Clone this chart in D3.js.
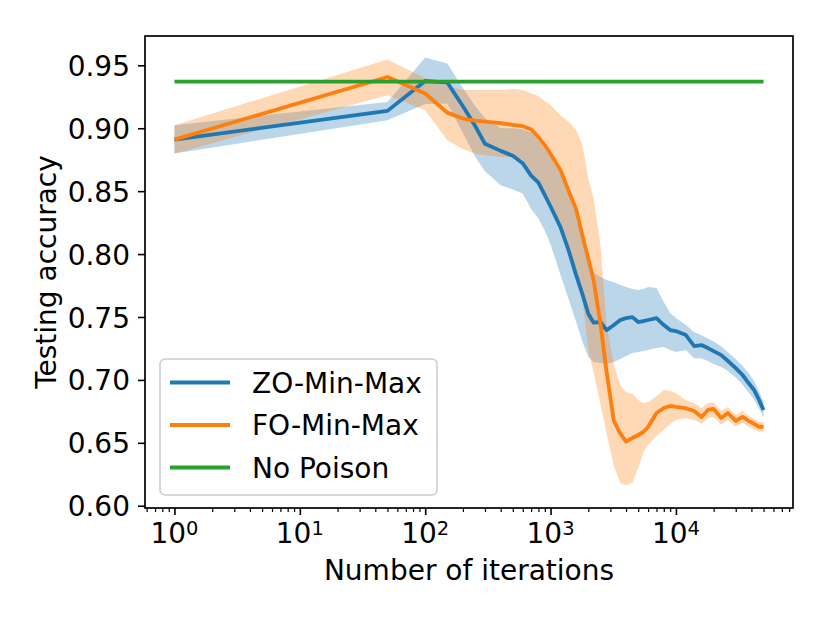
<!DOCTYPE html>
<html>
<head>
<meta charset="utf-8">
<script src="https://d3js.org/d3.v7.min.js"></script>
<style>
  body { margin: 0; background: #fff; }
  text { font-family: "DejaVu Sans", sans-serif; fill: #000; }
</style>
</head>
<body>
<div id="chart"></div>
<script>
// iterations logged during training
var iterations = [1, 50, 100, 150, 200, 250, 300, 400, 500, 600, 700, 800, 900, 1000, 1200, 1400, 1600, 1800, 2000, 2200, 2500, 2800, 3200, 3600, 4000, 4500, 5000, 5500, 6000, 7000, 8000, 9000, 10000, 12000, 14000, 16000, 18000, 20000, 23000, 26000, 30000, 34000, 38000, 42000, 46000, 50000];

// ZO-Min-Max: mean and band
var zoMean = [0.891, 0.9138, 0.9376, 0.9363, 0.9175, 0.902, 0.8876, 0.882, 0.8781, 0.8722, 0.8623, 0.8568, 0.8468, 0.8378, 0.8214, 0.8023, 0.7833, 0.7678, 0.7526, 0.7456, 0.746, 0.7396, 0.7436, 0.7476, 0.7491, 0.7499, 0.746, 0.7468, 0.7476, 0.7491, 0.7436, 0.7396, 0.7388, 0.7356, 0.7269, 0.7277, 0.7253, 0.7229, 0.7197, 0.715, 0.7094, 0.7039, 0.6975, 0.692, 0.6841, 0.6761];
var zoLower = [0.8799, 0.9064, 0.9192, 0.9197, 0.8963, 0.8776, 0.8659, 0.8546, 0.8513, 0.8481, 0.8358, 0.8282, 0.8186, 0.8079, 0.7833, 0.7635, 0.746, 0.7301, 0.7182, 0.7142, 0.7134, 0.7126, 0.7142, 0.7166, 0.719, 0.7213, 0.7221, 0.7229, 0.7237, 0.7253, 0.7261, 0.7237, 0.7221, 0.7237, 0.7172, 0.717, 0.715, 0.7126, 0.7102, 0.7071, 0.7019, 0.6964, 0.69, 0.6845, 0.6773, 0.6706];
var zoUpper = [0.9024, 0.9209, 0.9563, 0.9515, 0.9319, 0.9176, 0.908, 0.9, 0.9, 0.8992, 0.8968, 0.8905, 0.8841, 0.877, 0.8643, 0.8468, 0.8325, 0.811, 0.7936, 0.7856, 0.7817, 0.7793, 0.7777, 0.7754, 0.7738, 0.7722, 0.7714, 0.7722, 0.7738, 0.773, 0.7619, 0.7531, 0.7491, 0.7436, 0.7378, 0.7354, 0.733, 0.7306, 0.7267, 0.7219, 0.7166, 0.711, 0.7054, 0.6991, 0.6911, 0.6824];

// FO-Min-Max: mean and band
var foMean = [0.891, 0.9407, 0.9276, 0.9124, 0.9077, 0.906, 0.9052, 0.904, 0.9027, 0.9016, 0.8992, 0.8929, 0.8866, 0.8795, 0.8669, 0.8497, 0.8357, 0.8143, 0.7964, 0.7798, 0.7449, 0.7062, 0.6674, 0.6574, 0.651, 0.6538, 0.6562, 0.6586, 0.6626, 0.6737, 0.6777, 0.6793, 0.6785, 0.6775, 0.6753, 0.6705, 0.6761, 0.6769, 0.6697, 0.6737, 0.6674, 0.6706, 0.6674, 0.665, 0.6626, 0.6626];
var foLower = [0.8799, 0.9262, 0.9143, 0.8905, 0.8834, 0.8798, 0.8786, 0.8772, 0.877, 0.8754, 0.8619, 0.8555, 0.8452, 0.8365, 0.819, 0.7999, 0.7809, 0.7634, 0.7237, 0.7062, 0.6808, 0.657, 0.6316, 0.6181, 0.6165, 0.6181, 0.63, 0.6427, 0.6483, 0.6555, 0.6603, 0.665, 0.6682, 0.6696, 0.6682, 0.665, 0.6696, 0.6706, 0.6643, 0.6682, 0.6627, 0.6659, 0.6627, 0.6603, 0.6587, 0.6587];
var foUpper = [0.9024, 0.9546, 0.9398, 0.9333, 0.9303, 0.9303, 0.9303, 0.9303, 0.9311, 0.9303, 0.9279, 0.9256, 0.9216, 0.9184, 0.9104, 0.9048, 0.8985, 0.8865, 0.8601, 0.845, 0.807, 0.7436, 0.7118, 0.6959, 0.6903, 0.6888, 0.6841, 0.6817, 0.6825, 0.6872, 0.692, 0.6912, 0.6896, 0.6839, 0.6815, 0.6776, 0.6815, 0.6823, 0.6754, 0.6785, 0.6722, 0.6754, 0.6714, 0.669, 0.6666, 0.6666];

// clean model accuracy
var noPoison = 0.937;

var yTicks = [0.60, 0.65, 0.70, 0.75, 0.80, 0.85, 0.90, 0.95];
var xTicks = [1, 10, 100, 1000, 10000];
var seriesNames = ["ZO-Min-Max", "FO-Min-Max", "No Poison"];
var colors = ["#1f77b4", "#ff7f0e", "#2ca02c"];

var w = 830, h = 623;
var pLeft = 145, pRight = 793, pTop = 36, pBottom = 508;
var fs = 28;
var lw = 3.8;

var svg = d3.select("#chart").append("svg")
  .attr("width", w)
  .attr("height", h);

// log axis with matplotlib style 5% margins
var lx0 = Math.log10(d3.min(iterations)), lx1 = Math.log10(d3.max(iterations));
var mx = (lx1 - lx0) * 0.05;
var x = d3.scaleLog()
  .domain([Math.pow(10, lx0 - mx), Math.pow(10, lx1 + mx)])
  .range([pLeft, pRight]);
var y = d3.scaleLinear()
  .domain([0.5982, 0.9733])
  .range([pBottom, pTop]);

function rows(mean, lo, hi) {
  return iterations.map(function(it, i) {
    return { it: it, m: mean[i], lo: lo[i], hi: hi[i] };
  });
}
var zo = rows(zoMean, zoLower, zoUpper);
var fo = rows(foMean, foLower, foUpper);

svg.append("clipPath").attr("id", "plot")
  .append("rect")
  .attr("x", pLeft).attr("y", pTop)
  .attr("width", pRight - pLeft).attr("height", pBottom - pTop);

var g = svg.append("g").attr("clip-path", "url(#plot)");

var band = d3.area()
  .x(function(d) { return x(d.it); })
  .y0(function(d) { return y(d.lo); })
  .y1(function(d) { return y(d.hi); });
var line = d3.line()
  .x(function(d) { return x(d.it); })
  .y(function(d) { return y(d.m); });

g.append("path").datum(zo).attr("d", band)
  .attr("fill", colors[0]).attr("fill-opacity", 0.3);
g.append("path").datum(fo).attr("d", band)
  .attr("fill", colors[1]).attr("fill-opacity", 0.3);

[zo, fo].forEach(function(s, i) {
  g.append("path").datum(s).attr("d", line)
    .attr("fill", "none")
    .attr("stroke", colors[i])
    .attr("stroke-width", lw)
    .attr("stroke-linejoin", "round");
});

var flat = [iterations[0], iterations[iterations.length - 1]];
g.append("path")
  .datum(flat)
  .attr("d", d3.line().x(function(d) { return x(d); }).y(function() { return y(noPoison); }))
  .attr("fill", "none")
  .attr("stroke", colors[2])
  .attr("stroke-width", lw);

// frame
svg.append("rect")
  .attr("x", pLeft).attr("y", pTop)
  .attr("width", pRight - pLeft).attr("height", pBottom - pTop)
  .attr("fill", "none").attr("stroke", "#000").attr("stroke-width", 1.7);

// y axis
var yAxis = d3.axisLeft(y).tickValues(yTicks).tickSize(7).tickPadding(8)
  .tickFormat(d3.format(".2f"));
var gy = svg.append("g").attr("transform", "translate(" + pLeft + ",0)").call(yAxis);
gy.select(".domain").remove();
gy.selectAll(".tick line").attr("stroke", "#000").attr("stroke-width", 1.6);
gy.selectAll(".tick text")
  .attr("font-family", "DejaVu Sans").attr("font-size", fs)
  .attr("fill", "#000").attr("dy", "0.36em");

// x axis: major and minor ticks
var minor = [];
var dom = x.domain();
for (var e = -1; e <= 5; e++) {
  for (var k = 2; k <= 9; k++) {
    var v = k * Math.pow(10, e);
    if (v >= dom[0] && v <= dom[1]) minor.push(v);
  }
}
var gxm = svg.append("g").attr("transform", "translate(0," + pBottom + ")")
  .call(d3.axisBottom(x).tickValues(minor).tickSize(4).tickFormat(""));
gxm.select(".domain").remove();
gxm.selectAll(".tick line").attr("stroke", "#000").attr("stroke-width", 1.2);

var gx = svg.append("g").attr("transform", "translate(0," + pBottom + ")")
  .call(d3.axisBottom(x).tickValues(xTicks).tickSize(7).tickFormat(""));
gx.select(".domain").remove();
gx.selectAll(".tick line").attr("stroke", "#000").attr("stroke-width", 1.6);

var xl = svg.append("g").selectAll("text").data(xTicks).enter().append("text")
  .attr("x", function(d) { return x(d); })
  .attr("y", 543)
  .attr("text-anchor", "middle")
  .attr("font-size", fs);
xl.append("tspan").text("10");
xl.append("tspan")
  .attr("font-size", 19.5)
  .attr("dy", -8)
  .text(function(d) { return Math.round(Math.log10(d)); });

// axis titles
svg.append("text")
  .attr("x", (pLeft + pRight) / 2).attr("y", 580)
  .attr("text-anchor", "middle").attr("font-size", fs)
  .text("Number of iterations");
svg.append("text")
  .attr("transform", "translate(56," + (pTop + pBottom) / 2 + ") rotate(-90)")
  .attr("text-anchor", "middle").attr("font-size", fs)
  .text("Testing accuracy");

// legend
var lg = svg.append("g");
lg.append("rect")
  .attr("x", 160).attr("y", 359).attr("width", 277).attr("height", 136)
  .attr("rx", 5).attr("ry", 5)
  .attr("fill", "#fff").attr("fill-opacity", 0.8)
  .attr("stroke", "#cccccc").attr("stroke-width", 1.5);
var items = lg.selectAll("g.item").data(seriesNames).enter().append("g")
  .attr("class", "item")
  .attr("transform", function(d, i) { return "translate(0," + (382.5 + i * 42.5) + ")"; });
items.append("line")
  .attr("x1", 170).attr("x2", 230).attr("y1", 0).attr("y2", 0)
  .attr("stroke", function(d, i) { return colors[i]; })
  .attr("stroke-width", lw);
items.append("text")
  .attr("x", 252).attr("y", 10)
  .attr("font-size", fs)
  .text(function(d) { return d; });
</script>
</body>
</html>
